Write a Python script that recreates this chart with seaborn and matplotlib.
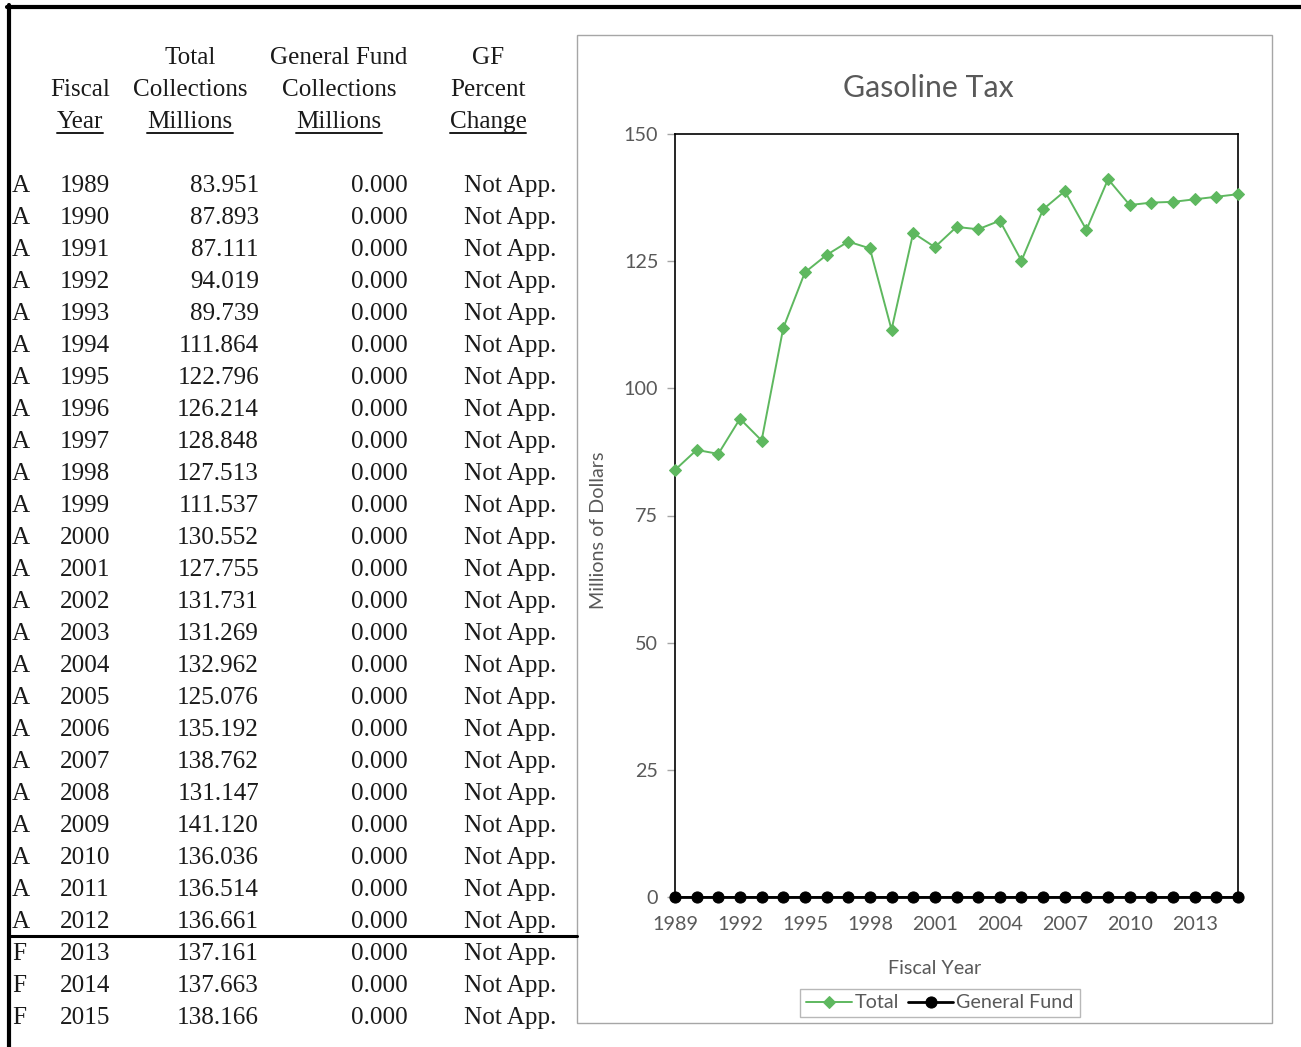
import matplotlib
matplotlib.use("Agg")
import matplotlib.pyplot as plt
import seaborn as sns
import pandas as pd
from matplotlib.lines import Line2D
from matplotlib.patches import Rectangle

# ---- data ----
years = list(range(1989, 2016))
total = [83.951, 87.893, 87.111, 94.019, 89.739, 111.864, 122.796, 126.214,
         128.848, 127.513, 111.537, 130.552, 127.755, 131.731, 131.269,
         132.962, 125.076, 135.192, 138.762, 131.147, 141.120, 136.036,
         136.514, 136.661, 137.161, 137.663, 138.166]
general_fund = [0.0] * 27
status = ["A"] * 24 + ["F"] * 3
gf_pct = ["Not App."] * 27

header_rows = [
    ["", "Total", "General Fund", "GF"],
    ["Fiscal", "Collections", "Collections", "Percent"],
    ["Year", "Millions", "Millions", "Change"],
]
y_ticks = [0, 25, 50, 75, 100, 125, 150]

GREEN = "#5EB85F"
GREY_TXT = "#595959"
GREY_LINE = "#A6A6A6"
INK = "#1a1a1a"

sns.set_theme(style="white")
plt.rcParams["font.family"] = ["Lato", "DejaVu Sans"]
SERIF = ["Liberation Serif", "DejaVu Serif"]
TFS = 18.1   # table font size
CFS = 14.2   # chart label font size

W, H = 1301, 1047
fig = plt.figure(figsize=(W / 100, H / 100), dpi=100)
fig.patch.set_facecolor("white")


def fx(x):
    return x / W


def fy(y):
    return 1 - y / H


# ---- page borders ----
fig.add_artist(Line2D([fx(7), 1.0], [fy(7), fy(7)], transform=fig.transFigure,
                      color="black", lw=3))
fig.add_artist(Line2D([fx(9), fx(9)], [fy(5), 0.0], transform=fig.transFigure,
                      color="black", lw=3))
fig.add_artist(Line2D([fx(9), fx(577)], [fy(936), fy(936)], transform=fig.transFigure,
                      color="black", lw=2.2))

# ---- table ----
col_centers = [80, 190, 339, 488]
header_y = [58, 90, 122]
under_texts = []
for r, row in enumerate(header_rows):
    for c, txt in enumerate(row):
        if not txt:
            continue
        t = fig.text(fx(col_centers[c]), fy(header_y[r]), txt, ha="center", va="center",
                     family=SERIF, fontsize=TFS, color=INK)
        if r == 2:
            under_texts.append(t)

row_y0, row_step = 186, 32
for i, yr in enumerate(years):
    yy = fy(row_y0 + i * row_step)
    fig.text(fx(12), yy, status[i], ha="left", va="center", family=SERIF, fontsize=TFS, color=INK)
    fig.text(fx(85), yy, str(yr), ha="center", va="center", family=SERIF, fontsize=TFS, color=INK)
    fig.text(fx(259), yy, f"{total[i]:.3f}", ha="right", va="center", family=SERIF, fontsize=TFS, color=INK)
    fig.text(fx(408), yy, f"{general_fund[i]:.3f}", ha="right", va="center", family=SERIF, fontsize=TFS, color=INK)
    fig.text(fx(556), yy, gf_pct[i], ha="right", va="center", family=SERIF, fontsize=TFS, color=INK)

# ---- chart frame ----
fig.add_artist(Rectangle((fx(577), fy(1023)), (1272 - 577) / W, (1023 - 35) / H,
                         transform=fig.transFigure, fill=False, edgecolor=GREY_LINE, lw=1))

ax = fig.add_axes([fx(675), fy(897), (1238 - 675) / W, (897 - 134) / H])
df = pd.DataFrame({"year": years, "Total": total, "General Fund": general_fund})

sns.lineplot(data=df, x="year", y="Total", ax=ax, color=GREEN, lw=1.4, marker="D",
             markersize=6.5, markeredgecolor=GREEN, markerfacecolor=GREEN,
             clip_on=False, label="Total", zorder=4)
sns.lineplot(data=df, x="year", y="General Fund", ax=ax, color="black", lw=2.0, marker="o",
             markersize=8, markeredgecolor="black", markerfacecolor="black",
             clip_on=False, label="General Fund", zorder=5)

ax.set_xlim(1989, 2015)
ax.set_ylim(0, 150)
ax.set_xticks(years[::3])
ax.set_yticks(y_ticks)
ax.set_xlabel("")
ax.set_ylabel("")
ax.tick_params(axis="x", bottom=False, length=0, pad=14, labelsize=CFS, labelcolor=GREY_TXT)
ax.tick_params(axis="y", left=True, length=6, width=1, color=GREY_LINE, pad=6,
               labelsize=CFS, labelcolor=GREY_TXT)
for s in ax.spines.values():
    s.set_color("black")
    s.set_linewidth(1.2)

handles, labels = ax.get_legend_handles_labels()
ax.get_legend().remove()

fig.text(fx(928), fy(88), "Gasoline Tax", ha="center", va="center", fontsize=21.8, color=GREY_TXT)
fig.text(fx(598), fy(530), "Millions of Dollars", ha="center", va="center", rotation=90,
         fontsize=CFS, color=GREY_TXT)
fig.text(fx(935), fy(969), "Fiscal Year", ha="center", va="center", fontsize=CFS, color=GREY_TXT)

leg = fig.legend(handles, labels, loc="center", bbox_to_anchor=(fx(940), fy(1003)),
                 ncol=2, frameon=True, fancybox=False, edgecolor=GREY_LINE, fontsize=CFS,
                 handlelength=2.3, columnspacing=0.45, handletextpad=0.15, borderpad=0.3,
                 borderaxespad=0)
leg.get_frame().set_linewidth(1)
for t in leg.get_texts():
    t.set_color(GREY_TXT)

# underline the last header row
fig.canvas.draw()
renderer = fig.canvas.get_renderer()
inv = fig.transFigure.inverted()
for t in under_texts:
    bb = t.get_window_extent(renderer)
    (x0, _), (x1, _) = inv.transform([(bb.x0, 0), (bb.x1, 0)])
    fig.add_artist(Line2D([x0, x1], [fy(133), fy(133)], transform=fig.transFigure,
                          color=INK, lw=1.4))

fig.savefig("out.png", dpi=100)
